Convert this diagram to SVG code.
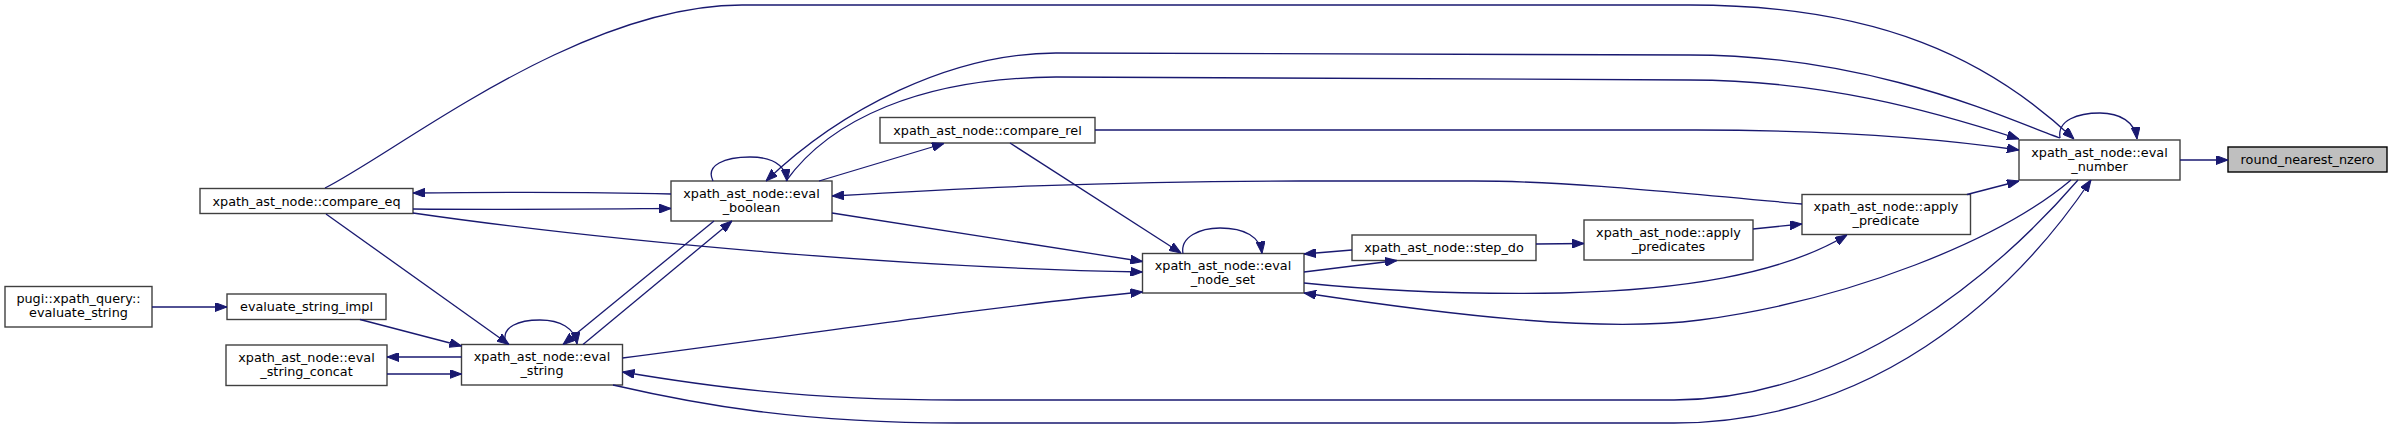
<svg xmlns="http://www.w3.org/2000/svg" width="2392" height="429" viewBox="0 0 2392 429">
<style>
.n rect{fill:#fff;stroke:#404040;stroke-width:1.4}
.n.root rect{fill:#bfbfbf;stroke:#000}
.n text{font-family:"DejaVu Sans","Liberation Sans",sans-serif;font-size:12.8px;fill:#000;text-anchor:middle}
#edges path{fill:none;stroke:#191970;stroke-width:1.3;marker-end:url(#a)}
</style>
<defs>
<marker id="a" viewBox="0 0 12 9" markerWidth="12" markerHeight="9" refX="12" refY="4.5" orient="auto" markerUnits="userSpaceOnUse">
<path d="M0,0 L12,4.5 L0,9 Z" fill="#191970" stroke="#191970" stroke-width="1"/>
</marker>
</defs>
<rect width="2392" height="429" fill="#fff"/>
<g id="nodes">
<g id="round_nearest_nzero" class="n root"><rect x="2228" y="147" width="159" height="25"/><text x="2307.5" y="164">round_nearest_nzero</text></g>
<g id="eval_number" class="n"><rect x="2019" y="140" width="161" height="40"/><text x="2099.5" y="156.5">xpath_ast_node::eval</text><text x="2099.5" y="170.5">_number</text></g>
<g id="apply_predicate" class="n"><rect x="1802" y="194.5" width="168.5" height="40"/><text x="1886" y="211">xpath_ast_node::apply</text><text x="1886" y="225">_predicate</text></g>
<g id="apply_predicates" class="n"><rect x="1584" y="220" width="169" height="40"/><text x="1668.5" y="236.5">xpath_ast_node::apply</text><text x="1668.5" y="250.5">_predicates</text></g>
<g id="step_do" class="n"><rect x="1352" y="235" width="184" height="25.5"/><text x="1444" y="252">xpath_ast_node::step_do</text></g>
<g id="eval_node_set" class="n"><rect x="1142.5" y="253.5" width="161.5" height="39.5"/><text x="1223" y="270">xpath_ast_node::eval</text><text x="1223" y="284">_node_set</text></g>
<g id="compare_rel" class="n"><rect x="880" y="117.5" width="215" height="25.5"/><text x="987.5" y="134.5">xpath_ast_node::compare_rel</text></g>
<g id="eval_boolean" class="n"><rect x="671" y="181" width="161" height="40"/><text x="751.5" y="197.5">xpath_ast_node::eval</text><text x="751.5" y="211.5">_boolean</text></g>
<g id="compare_eq" class="n"><rect x="200" y="188.5" width="213" height="25"/><text x="306.5" y="205.5">xpath_ast_node::compare_eq</text></g>
<g id="eval_string" class="n"><rect x="461.5" y="344.5" width="161" height="40.5"/><text x="542" y="361">xpath_ast_node::eval</text><text x="542" y="375">_string</text></g>
<g id="eval_string_concat" class="n"><rect x="226" y="345" width="161" height="40.5"/><text x="306.5" y="361.5">xpath_ast_node::eval</text><text x="306.5" y="375.5">_string_concat</text></g>
<g id="evaluate_string_impl" class="n"><rect x="227" y="294" width="159" height="25.5"/><text x="306.5" y="311">evaluate_string_impl</text></g>
<g id="evaluate_string" class="n"><rect x="5" y="286.5" width="147" height="40.5"/><text x="78.5" y="303">pugi::xpath_query::</text><text x="78.5" y="317">evaluate_string</text></g>
</g>
<g id="edges">
<path d="M2180,160 L2228,160"/>
<path d="M2060,138 C2057,120 2078,113 2100,113 C2120,113 2135,122 2137,139"/>
<path d="M325,188 C400,150 580,5 742,5 L1690,5 C1880,5 1990,60 2074,139"/>
<path d="M2060,138 C2020,125 1880,55 1690,55 L1056,53 C950,53 840,110 766,181"/>
<path d="M786,181 C830,120 920,78 1056,77 L1690,80 C1820,80 1930,110 2019,139"/>
<path d="M1095,130 L1696,130 C1850,130 1950,140 2019,150"/>
<path d="M819,181 L944,143.5"/>
<path d="M1010,143 L1181,253"/>
<path d="M1802,204 C1650,190 1560,181 1473,181 L1300,181 C1100,181 950,189 832,196"/>
<path d="M1967,194.5 L2019,181"/>
<path d="M1753,229 L1802,224"/>
<path d="M1536,244 L1584,243.5"/>
<path d="M1352,250 L1304,254"/>
<path d="M1304,272 L1397,260.5"/>
<path d="M1304,283 C1400,293 1500,294 1562,293 C1680,290 1780,275 1847,235"/>
<path d="M2071,180 C2000,240 1850,300 1700,320 C1600,333 1450,315 1304,293"/>
<path d="M2078,180 C2000,270 1850,400 1674,400 L957,400 C800,400 700,385 622.5,372"/>
<path d="M613,385 C700,405 800,423 957,423 L1674,423 C1870,423 2010,300 2091,180"/>
<path d="M622.5,358 C800,335 1000,305 1142.5,292"/>
<path d="M413,213 C600,240 900,268 1142.5,272"/>
<path d="M832,213 L1142.5,261.5"/>
<path d="M671,194 C600,192 500,192 413,193"/>
<path d="M413,209 C500,210 600,209 671,208.5"/>
<path d="M326,214 L509,344.5"/>
<path d="M714,221 L563,344.5"/>
<path d="M583,344.5 L732,221"/>
<path d="M506,344 C500,326 520,320 540,320 C560,320 575,328 577,344"/>
<path d="M360,319.5 L461.5,346"/>
<path d="M461.5,357 L387,357"/>
<path d="M387,374 L461.5,374"/>
<path d="M152,307 L227,307"/>
<path d="M713,181 C705,165 725,157 750,157 C770,157 785,163 787,181"/>
<path d="M1183,253.5 C1180,237 1200,228 1220,228 C1245,228 1260,237 1262,253.5"/>
</g>
</svg>
